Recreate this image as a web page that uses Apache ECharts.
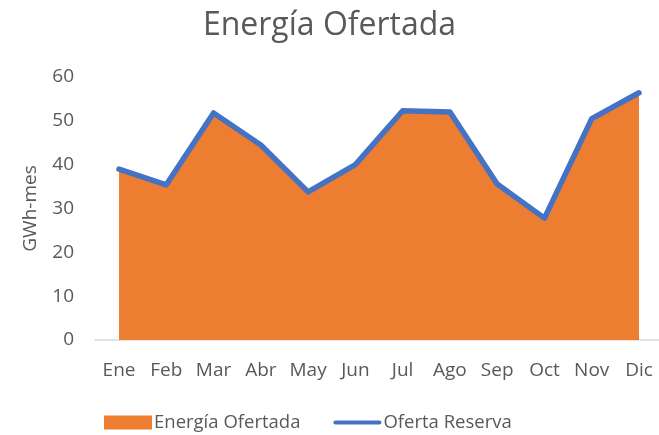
<!DOCTYPE html>
<html><head><meta charset="utf-8">
<script src="https://cdn.jsdelivr.net/npm/echarts@6/dist/echarts.min.js"></script>
<style>html,body{margin:0;padding:0;background:#fff}#c{width:659px;height:435px}</style>
</head><body><div id="c"></div>
<script>
const categories = ['Ene','Feb','Mar','Abr','May','Jun','Jul','Ago','Sep','Oct','Nov','Dic'];
const energiaOfertada = [38.6, 35.2, 52.0, 44.3, 33.6, 39.8, 52.6, 52.4, 35.4, 27.6, 50.6, 56.6];
const ofertaReserva = [39.0, 35.4, 51.8, 44.5, 33.8, 40.0, 52.3, 52.0, 35.6, 27.8, 50.5, 56.4];
const yTicks = [0, 10, 20, 30, 40, 50, 60];
const idx = categories.map((c, i) => i);
const font = '"Open Sans", "Noto Sans", sans-serif';
const chart = echarts.init(document.getElementById('c'), null, {renderer: 'canvas'});
chart.setOption({
  animation: false,
  backgroundColor: '#fff',
  title: {
    text: 'Energía Ofertada', left: 'center', top: 5,
    textStyle: {fontFamily: font, fontSize: 32, fontWeight: 'normal', color: '#595959'}
  },
  legend: {
    top: 408, left: 99, itemGap: 33, itemWidth: 48, itemHeight: 14,
    textStyle: {fontFamily: font, fontSize: 18.5, color: '#595959', padding: [0, 0, 0, -3]},
    data: [
      {name: 'Energía Ofertada', icon: 'rect'},
      {name: 'Oferta Reserva', icon: 'path://M2,6 L46,6 A2,2 0 0 1 46,10 L2,10 A2,2 0 0 1 2,6 Z'}
    ]
  },
  grid: {left: 95, right: 0, top: 77, bottom: 95},
  xAxis: {
    type: 'value', min: -0.508, max: 11.423,
    axisLine: {show: true, lineStyle: {color: '#d9d9d9', width: 1.5}},
    axisTick: {show: false},
    splitLine: {show: false},
    axisLabel: {
      customValues: idx, margin: 21,
      formatter: v => categories[Math.round(v)] || '',
      fontFamily: font, fontSize: 19, color: '#595959'
    }
  },
  yAxis: {
    type: 'value', min: 0, max: 60, interval: 10,
    name: 'GWh-mes', nameLocation: 'middle', nameGap: 55, nameRotate: 90,
    nameTextStyle: {fontFamily: font, fontSize: 19, color: '#595959'},
    axisLine: {show: false}, axisTick: {show: false}, splitLine: {show: false},
    axisLabel: {margin: 21, fontFamily: font, fontSize: 19, color: '#595959',
      formatter: v => yTicks.includes(v) ? String(v) : ''}
  },
  series: [
    {
      name: 'Energía Ofertada', type: 'line', symbol: 'none',
      data: energiaOfertada.map((v, i) => [i, v]),
      itemStyle: {color: '#ED7D31'},
      lineStyle: {width: 0},
      areaStyle: {color: '#ED7D31', opacity: 1}
    },
    {
      name: 'Oferta Reserva', type: 'line', symbol: 'none',
      data: ofertaReserva.map((v, i) => [i, v]),
      itemStyle: {color: '#4472C4'},
      lineStyle: {width: 5.5, color: '#4472C4', cap: 'round', join: 'round'}
    }
  ]
});
</script></body></html>
